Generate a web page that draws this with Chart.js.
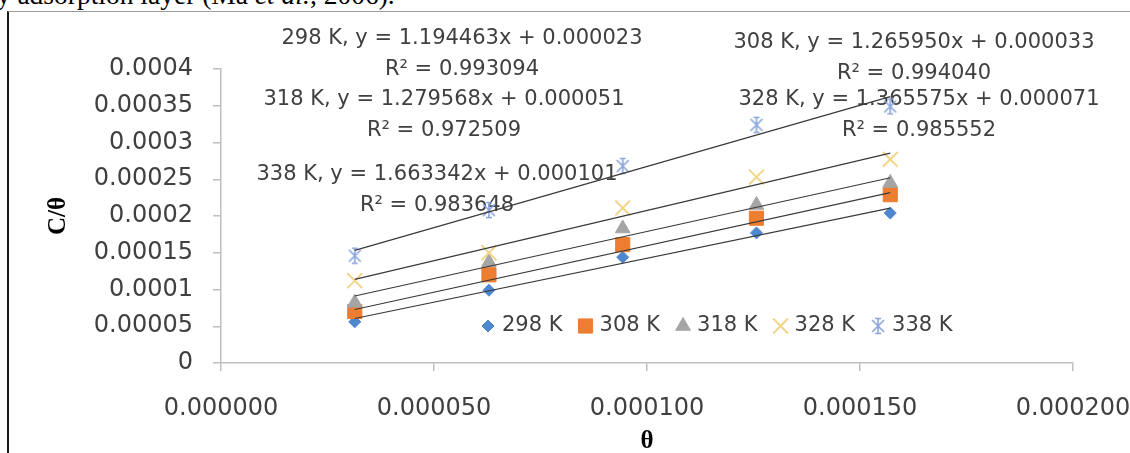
<!DOCTYPE html>
<html>
<head>
<meta charset="utf-8">
<script src="https://cdn.jsdelivr.net/npm/chart.js@4.4.1/dist/chart.umd.min.js"></script>
<style>
  html, body { margin: 0; padding: 0; background: #fff; overflow: hidden; }
  body { width: 1130px; height: 453px; position: relative; }
  .texto-topo { position: absolute; left: -17px; top: -19px; font-family: 'Liberation Serif', serif; font-size: 27.5px; line-height: 27px; white-space: nowrap; color: #000; }
  .moldura { position: absolute; left: 7px; top: 11px; width: 1123px; height: 442px; box-sizing: border-box; border-left: 2px solid #1a1a1a; border-top: 1px solid #9c9c9c; }
  #grafico { position: absolute; left: 9px; top: 12px; }
</style>
</head>
<body>
<div class="texto-topo">by adsorption layer (Ma <i>et al.</i>, 2006).</div>
<div class="moldura"></div>
<canvas id="grafico" width="1121" height="441"></canvas>
<script>
// dados do grafico
const temps = ['298 K', '308 K', '318 K', '328 K', '338 K']; // temperaturas
const theta = [0.0000314, 0.0000629, 0.0000943, 0.0001257, 0.0001571]; // eixo x
const c298 = [0.000056, 0.000099, 0.000144, 0.000177, 0.000204];
const c308 = [0.000070, 0.000120, 0.000161, 0.000197, 0.000229];
const c318 = [0.000082, 0.000137, 0.000183, 0.000215, 0.000245];
const c328 = [0.000112, 0.000150, 0.000211, 0.000253, 0.000277];
const c338 = [0.000146, 0.000208, 0.000268, 0.000324, 0.000349];

// retas de ajuste
const slopes = [1.194463, 1.265950, 1.279568, 1.365575, 1.663342];
const intercepts = [0.000023, 0.000033, 0.000051, 0.000071, 0.000101];
const rSquared = [0.993094, 0.994040, 0.972509, 0.985552, 0.983648];

// rotulos dos eixos
const xTickLabels = ['0.000000', '0.000050', '0.000100', '0.000150', '0.000200'];
const yTickLabels = ['0', '0.00005', '0.0001', '0.00015', '0.0002', '0.00025', '0.0003', '0.00035', '0.0004'];

// posicao das equacoes (centro, em px do canvas)
const labelPos = [[453, 27], [905, 31], [435, 88], [910, 88], [428, 163]];

const textColor = '#404040';

// marcador asterisco (nao existe no chart.js)
function makeAsterisk(color) {
  const c = document.createElement('canvas');
  c.width = 18;
  c.height = 18;
  const g = c.getContext('2d');
  g.strokeStyle = color;
  g.lineWidth = 1.6;
  g.beginPath();
  g.moveTo(3, 3); g.lineTo(15, 15);
  g.moveTo(15, 3); g.lineTo(3, 15);
  g.moveTo(9, 1); g.lineTo(9, 17);
  g.moveTo(6, 1.5); g.lineTo(12, 1.5);
  g.moveTo(6, 16.5); g.lineTo(12, 16.5);
  g.stroke();
  return c;
}

const series = [c298, c308, c318, c328, c338];
const markers = [
  { pointStyle: 'rectRot', pointRadius: 6, color: '#4f86d0', borderWidth: 1 },
  { pointStyle: 'rect', pointRadius: 10, color: '#ed7d31', borderWidth: 1 },
  { pointStyle: 'triangle', pointRadius: 8.5, color: '#a5a5a5', borderWidth: 1 },
  { pointStyle: 'crossRot', pointRadius: 10.5, color: '#f3d58a', borderWidth: 2 },
  { pointStyle: makeAsterisk('#8aa4dc'), pointRadius: 9, color: '#8aa4dc', borderWidth: 1 }
];

// pontos experimentais
const pointSets = series.map((values, i) => ({
  label: temps[i],
  data: theta.map((x, k) => ({ x, y: values[k] })),
  pointStyle: markers[i].pointStyle,
  pointRadius: markers[i].pointRadius,
  backgroundColor: markers[i].color,
  borderColor: markers[i].color,
  borderWidth: markers[i].borderWidth,
  showLine: false,
  order: 5 - i
}));

// linhas de tendencia: do primeiro ao ultimo theta
const trendSets = slopes.map((m, i) => ({
  label: temps[i] + ' ajuste',
  data: [theta[0], theta[theta.length - 1]].map(x => ({ x, y: m * x + intercepts[i] })),
  showLine: true,
  pointRadius: 0,
  borderColor: '#3a3a3a',
  borderWidth: 1.2,
  order: 0
}));

// equacoes e R² (atras das linhas)
const eqLabels = {
  id: 'eqLabels',
  beforeDatasetsDraw(chart) {
    const ctx = chart.ctx;
    ctx.save();
    ctx.font = '21px "DejaVu Sans"';
    ctx.fillStyle = textColor;
    ctx.textAlign = 'center';
    ctx.textBaseline = 'middle';
    temps.forEach((t, i) => {
      const [px, py] = labelPos[i];
      ctx.fillText(`${t}, y = ${slopes[i].toFixed(6)}x + ${intercepts[i].toFixed(6)}`, px, py);
      ctx.fillText(`R² = ${rSquared[i].toFixed(6)}`, px, py + 31);
    });
    ctx.restore();
  }
};

// legenda dentro da area do grafico
const innerLegend = {
  id: 'innerLegend',
  afterDatasetsDraw(chart) {
    const ctx = chart.ctx;
    const area = chart.chartArea;
    let x = area.left + 267;
    const y = area.top + 257;
    ctx.save();
    ctx.font = '21px "DejaVu Sans"';
    ctx.textBaseline = 'middle';
    ctx.textAlign = 'left';
    temps.forEach((t, i) => {
      const mk = markers[i];
      ctx.fillStyle = mk.color;
      ctx.strokeStyle = mk.color;
      ctx.lineWidth = mk.borderWidth;
      Chart.helpers.drawPoint(ctx, { pointStyle: mk.pointStyle, radius: mk.pointRadius, rotation: 0, borderWidth: mk.borderWidth }, x, y);
      ctx.fillStyle = textColor;
      ctx.fillText(t, x + 14, y);
      x += 14 + ctx.measureText(t).width + 23;
    });
    ctx.restore();
  }
};

const tickFont = { family: 'DejaVu Sans', size: 24 };
const titleFont = { family: 'Liberation Serif', size: 25, weight: 'bold' };

new Chart(document.getElementById('grafico'), {
  type: 'scatter',
  data: { datasets: [...pointSets, ...trendSets] },
  options: {
    responsive: false,
    animation: false,
    events: [],
    layout: { padding: { top: 57, right: 4, left: 0, bottom: 0 } },
    plugins: {
      legend: { display: false },
      tooltip: { enabled: false }
    },
    scales: {
      x: {
        type: 'linear',
        min: 0,
        max: 0.0002,
        ticks: {
          stepSize: 0.00005,
          padding: 23,
          color: textColor,
          font: tickFont,
          maxRotation: 0,
          autoSkip: false,
          callback: (v, i) => xTickLabels[i]
        },
        grid: { drawOnChartArea: false, drawTicks: true, tickLength: 8, color: '#bfbfbf', lineWidth: 1.5 },
        border: { color: '#bfbfbf', width: 1.5 },
        title: { display: true, text: 'θ', color: '#000', font: titleFont, padding: { top: 0, bottom: -4 } },
        afterFit: s => {
          s.height = 90;
          s.paddingRight = 57; // so metade do ultimo rotulo
        }
      },
      y: {
        type: 'linear',
        min: 0,
        max: 0.0004,
        ticks: {
          stepSize: 0.00005,
          padding: 20,
          color: textColor,
          font: tickFont,
          callback: (v, i) => yTickLabels[i]
        },
        grid: { drawOnChartArea: false, drawTicks: true, tickLength: 8, color: '#bfbfbf', lineWidth: 1.5 },
        border: { color: '#bfbfbf', width: 1.5 },
        title: { display: true, text: 'C/θ', color: '#000', font: titleFont, padding: { top: 35, bottom: 0 } },
        afterFit: s => { s.width = 212; }
      }
    }
  },
  plugins: [eqLabels, innerLegend]
});
</script>
</body>
</html>
